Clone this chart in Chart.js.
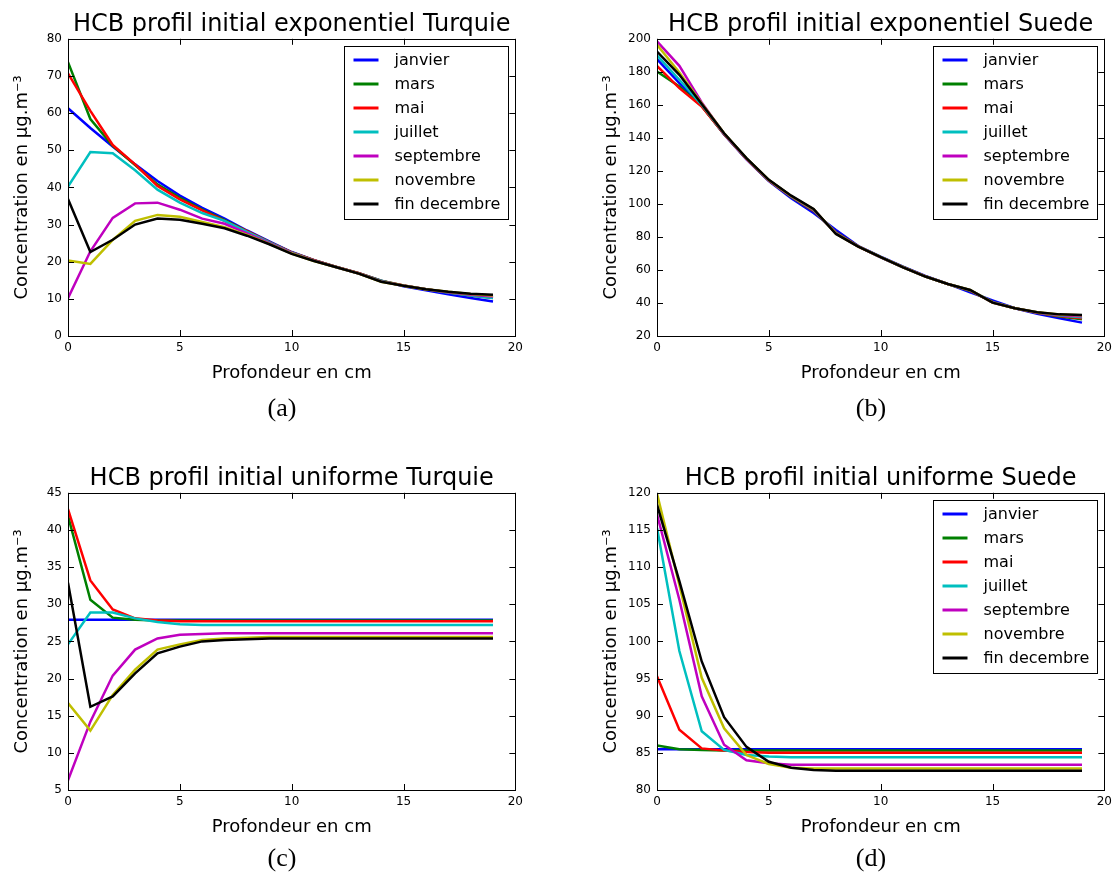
<!DOCTYPE html>
<html>
<head>
<meta charset="utf-8">
<title>HCB profils</title>
<script src="https://cdn.jsdelivr.net/npm/chart.js@4.4.1/dist/chart.umd.min.js"></script>
<style>
    body { margin: 0; background: #fff; overflow: hidden; }
    #page { position: relative; width: 1112px; height: 872px; overflow: hidden; }
    canvas { position: absolute; }
    .caption {
        position: absolute;
        width: 100px;
        text-align: center;
        font-family: "Liberation Serif", serif;
        font-size: 26px;
        line-height: 30px;
        color: #000;
    }
</style>
</head>
<body>
<div id="page">
    <canvas id="chartA" width="528" height="395" style="left:0;top:0"></canvas>
    <canvas id="chartB" width="528" height="395" style="left:589px;top:0"></canvas>
    <canvas id="chartC" width="528" height="395" style="left:0;top:454px"></canvas>
    <canvas id="chartD" width="528" height="395" style="left:589px;top:454px"></canvas>
    <div class="caption" style="left:232px;top:393px">(a)</div>
    <div class="caption" style="left:821px;top:393px">(b)</div>
    <div class="caption" style="left:232px;top:843px">(c)</div>
    <div class="caption" style="left:821px;top:843px">(d)</div>
</div>
<script>
const DEPTH = [0, 1, 2, 3, 4, 5, 6, 7, 8, 9, 10, 11, 12, 13, 14, 15, 16, 17, 18, 19];

const MONTHS = ['janvier', 'mars', 'mai', 'juillet', 'septembre', 'novembre', 'fin decembre'];
const COLORS = ['#0000ff', '#008000', '#ff0000', '#00bfbf', '#bf00bf', '#bfbf00', '#000000'];

// (a) exponential initial profile, Turquie - one row per month
const expTurquie = [
    [61.3, 56.0, 51.0, 46.2, 41.7, 37.8, 34.5, 31.6, 28.4, 25.5, 22.6, 20.4, 18.6, 16.9, 14.9, 13.4, 12.3, 11.2, 10.2, 9.3],
    [73.7, 58.4, 51.2, 46.0, 40.8, 37.2, 34.0, 31.2, 28.2, 25.3, 22.5, 20.4, 18.6, 16.9, 14.9, 13.6, 12.6, 11.7, 10.9, 10.2],
    [70.7, 60.6, 51.4, 46.2, 40.4, 36.8, 33.8, 31.0, 28.2, 25.3, 22.5, 20.4, 18.6, 16.9, 14.8, 13.6, 12.6, 11.8, 11.0, 10.4],
    [40.2, 49.5, 49.2, 44.6, 39.4, 35.9, 33.1, 31.0, 28.0, 25.2, 22.4, 20.3, 18.5, 16.8, 14.8, 13.5, 12.6, 11.7, 10.9, 10.2],
    [10.2, 22.8, 31.8, 35.7, 35.9, 34.0, 31.6, 30.2, 27.6, 25.0, 22.3, 20.3, 18.5, 16.8, 14.7, 13.5, 12.6, 11.8, 11.1, 10.6],
    [20.3, 19.4, 25.9, 31.0, 32.6, 32.1, 30.7, 29.3, 27.2, 24.8, 22.2, 20.2, 18.5, 16.8, 14.6, 13.5, 12.6, 11.9, 11.3, 10.9],
    [36.9, 22.6, 25.9, 30.0, 31.6, 31.3, 30.2, 29.0, 27.0, 24.7, 22.1, 20.2, 18.5, 16.8, 14.6, 13.5, 12.6, 11.9, 11.4, 11.1]
];

// (b) exponential initial profile, Suede
const expSuede = [
    [187.7, 173.1, 159.5, 142.0, 127.0, 113.8, 103.5, 94.5, 84.2, 74.5, 68.0, 62.0, 56.4, 51.6, 46.5, 41.6, 36.8, 33.5, 30.7, 28.1],
    [180.2, 171.1, 159.2, 142.3, 127.3, 114.2, 104.2, 95.8, 82.8, 74.3, 67.8, 61.8, 56.1, 51.5, 47.4, 40.6, 36.8, 34.0, 31.8, 30.2],
    [183.6, 170.1, 159.0, 142.2, 127.2, 114.2, 104.3, 95.9, 82.7, 74.3, 67.8, 61.7, 56.1, 51.5, 47.5, 40.5, 36.8, 34.1, 32.1, 30.8],
    [190.0, 175.2, 160.0, 142.5, 127.4, 114.4, 104.5, 96.3, 82.4, 74.2, 67.7, 61.6, 56.0, 51.5, 47.7, 40.4, 36.8, 34.2, 32.4, 31.4],
    [198.4, 183.6, 161.5, 142.5, 127.3, 114.3, 104.6, 96.6, 82.0, 74.1, 67.6, 61.6, 56.0, 51.5, 47.8, 40.3, 36.8, 34.3, 32.7, 32.0],
    [196.4, 179.6, 160.8, 142.8, 127.6, 114.5, 104.8, 96.8, 81.9, 74.1, 67.7, 61.6, 56.0, 51.5, 47.9, 40.2, 36.8, 34.4, 33.0, 32.5],
    [192.3, 178.2, 160.5, 142.8, 127.7, 114.6, 105.0, 97.0, 81.8, 74.1, 67.7, 61.6, 56.0, 51.5, 47.9, 40.2, 36.8, 34.4, 33.1, 32.7]
];

// (c) uniform initial profile, Turquie
const uniTurquie = [
    [27.9, 27.9, 27.9, 27.9, 27.9, 27.9, 27.9, 27.9, 27.9, 27.9, 27.9, 27.9, 27.9, 27.9, 27.9, 27.9, 27.9, 27.9, 27.9, 27.9],
    [41.9, 30.6, 28.2, 27.9, 27.8, 27.8, 27.8, 27.8, 27.8, 27.8, 27.8, 27.8, 27.8, 27.8, 27.8, 27.8, 27.8, 27.8, 27.8, 27.8],
    [42.8, 33.2, 29.3, 28.1, 27.8, 27.7, 27.7, 27.7, 27.7, 27.7, 27.7, 27.7, 27.7, 27.7, 27.7, 27.7, 27.7, 27.7, 27.7, 27.7],
    [24.6, 28.9, 28.9, 28.1, 27.6, 27.3, 27.2, 27.2, 27.2, 27.2, 27.2, 27.2, 27.2, 27.2, 27.2, 27.2, 27.2, 27.2, 27.2, 27.2],
    [6.3, 14.2, 20.4, 23.9, 25.4, 25.9, 26.0, 26.1, 26.1, 26.1, 26.1, 26.1, 26.1, 26.1, 26.1, 26.1, 26.1, 26.1, 26.1, 26.1],
    [16.7, 13.0, 17.8, 21.2, 23.9, 24.6, 25.2, 25.4, 25.5, 25.6, 25.6, 25.6, 25.6, 25.6, 25.6, 25.6, 25.6, 25.6, 25.6, 25.6],
    [32.9, 16.2, 17.6, 20.7, 23.4, 24.3, 25.0, 25.2, 25.3, 25.4, 25.4, 25.4, 25.4, 25.4, 25.4, 25.4, 25.4, 25.4, 25.4, 25.4]
];

// (d) uniform initial profile, Suede
const uniSuede = [
    [85.5, 85.5, 85.5, 85.5, 85.5, 85.5, 85.5, 85.5, 85.5, 85.5, 85.5, 85.5, 85.5, 85.5, 85.5, 85.5, 85.5, 85.5, 85.5, 85.5],
    [86.0, 85.5, 85.4, 85.3, 85.3, 85.3, 85.3, 85.3, 85.3, 85.3, 85.3, 85.3, 85.3, 85.3, 85.3, 85.3, 85.3, 85.3, 85.3, 85.3],
    [95.3, 88.1, 85.6, 85.3, 85.1, 85.0, 85.0, 85.0, 85.0, 85.0, 85.0, 85.0, 85.0, 85.0, 85.0, 85.0, 85.0, 85.0, 85.0, 85.0],
    [115.3, 98.7, 87.9, 85.4, 84.7, 84.5, 84.4, 84.4, 84.4, 84.4, 84.4, 84.4, 84.4, 84.4, 84.4, 84.4, 84.4, 84.4, 84.4, 84.4],
    [117.1, 105.6, 92.6, 86.1, 84.0, 83.6, 83.4, 83.4, 83.4, 83.4, 83.4, 83.4, 83.4, 83.4, 83.4, 83.4, 83.4, 83.4, 83.4, 83.4],
    [119.9, 107.6, 95.1, 88.3, 84.7, 83.5, 83.0, 82.9, 82.9, 82.9, 82.9, 82.9, 82.9, 82.9, 82.9, 82.9, 82.9, 82.9, 82.9, 82.9],
    [118.4, 108.1, 97.3, 89.8, 85.8, 83.8, 83.0, 82.7, 82.6, 82.6, 82.6, 82.6, 82.6, 82.6, 82.6, 82.6, 82.6, 82.6, 82.6, 82.6]
];

const FONT = '"DejaVu Sans", Verdana, sans-serif';

// black box around the plot area, ticks pointing inwards on all four sides
const framePlugin = {
    id: 'frame',
    afterDraw(chart) {
        const { ctx, chartArea: a, scales } = chart;
        const len = 6;
        ctx.save();
        ctx.strokeStyle = '#000';
        ctx.lineWidth = 1;
        ctx.beginPath();
        scales.x.ticks.forEach(t => {
            const px = Math.round(scales.x.getPixelForValue(t.value)) + 0.5;
            ctx.moveTo(px, a.bottom); ctx.lineTo(px, a.bottom - len);
            ctx.moveTo(px, a.top); ctx.lineTo(px, a.top + len);
        });
        scales.y.ticks.forEach(t => {
            const py = Math.round(scales.y.getPixelForValue(t.value)) + 0.5;
            ctx.moveTo(a.left, py); ctx.lineTo(a.left + len, py);
            ctx.moveTo(a.right, py); ctx.lineTo(a.right - len, py);
        });
        ctx.stroke();
        ctx.strokeRect(Math.round(a.left) + 0.5, Math.round(a.top) + 0.5,
            Math.round(a.right - a.left), Math.round(a.bottom - a.top));
        ctx.restore();
    }
};

// matplotlib-like boxed legend in the upper right corner of the plot
const boxLegendPlugin = {
    id: 'boxLegend',
    afterDraw(chart, args, opts) {
        if (!opts.show) return;
        const { ctx, chartArea: a } = chart;
        const w = 164, h = 173, rowH = 24;
        const left = Math.round(a.right - 7 - w) + 0.5;
        const top = Math.round(a.top + 7) + 0.5;
        ctx.save();
        ctx.fillStyle = '#fff';
        ctx.fillRect(left, top, w, h);
        ctx.strokeStyle = '#000';
        ctx.lineWidth = 1;
        ctx.strokeRect(left, top, w, h);
        ctx.font = '16px ' + FONT;
        ctx.textBaseline = 'middle';
        ctx.textAlign = 'left';
        chart.data.datasets.forEach((ds, i) => {
            const y = top + 13.5 + i * rowH;
            ctx.strokeStyle = ds.borderColor;
            ctx.lineWidth = 3;
            ctx.beginPath();
            ctx.moveTo(left + 9, y);
            ctx.lineTo(left + 34, y);
            ctx.stroke();
            ctx.fillStyle = '#000';
            ctx.fillText(ds.label, left + 50, y + 1);
        });
        ctx.restore();
    }
};

function drawPanel(canvasId, title, rows, yMin, yMax, yStep, showLegend) {
    const datasets = MONTHS.map((name, i) => ({
        label: name,
        data: DEPTH.map((d, j) => ({ x: d, y: rows[i][j] })),
        borderColor: COLORS[i],
        borderWidth: 2.5,
        pointRadius: 0,
        tension: 0,
        fill: false,
        order: MONTHS.length - 1 - i
    }));

    return new Chart(document.getElementById(canvasId), {
        type: 'line',
        data: { datasets },
        options: {
            responsive: false,
            animation: false,
            layout: { padding: { left: 0, right: 0, top: 0, bottom: 0 } },
            plugins: {
                legend: { display: false },
                tooltip: { enabled: false },
                title: {
                    display: true,
                    text: title,
                    fullSize: false,
                    color: '#000',
                    font: { family: FONT, size: 24, weight: 'normal', lineHeight: 1.2 },
                    padding: { top: 10, bottom: 0 }
                },
                boxLegend: { show: showLegend }
            },
            scales: {
                x: {
                    type: 'linear',
                    min: 0,
                    max: 20,
                    grid: { display: false, drawTicks: false },
                    border: { display: false },
                    ticks: { stepSize: 5, color: '#000', padding: 5, maxRotation: 0, font: { family: FONT, size: 12 } },
                    title: {
                        display: true,
                        text: 'Profondeur en cm',
                        color: '#000',
                        font: { family: FONT, size: 18, lineHeight: 1.2 },
                        padding: { top: 0, bottom: 11 }
                    },
                    afterFit: scale => { scale.height = 59; }
                },
                y: {
                    type: 'linear',
                    min: yMin,
                    max: yMax,
                    grid: { display: false, drawTicks: false },
                    border: { display: false },
                    ticks: { stepSize: yStep, color: '#000', padding: 6, font: { family: FONT, size: 12 } },
                    title: {
                        display: true,
                        text: 'Concentration en \u03bcg.m\u207b\u00b3',
                        color: '#000',
                        font: { family: FONT, size: 18, lineHeight: 1.2 },
                        padding: { top: 12, bottom: 0 }
                    },
                    afterFit: scale => { scale.width = 68; }
                }
            }
        },
        plugins: [framePlugin, boxLegendPlugin]
    });
}

drawPanel('chartA', 'HCB profil initial exponentiel Turquie', expTurquie, 0, 80, 10, true);
drawPanel('chartB', 'HCB profil initial exponentiel Suede', expSuede, 20, 200, 20, true);
drawPanel('chartC', 'HCB profil initial uniforme Turquie', uniTurquie, 5, 45, 5, false);
drawPanel('chartD', 'HCB profil initial uniforme Suede', uniSuede, 80, 120, 5, true);
</script>
</body>
</html>
